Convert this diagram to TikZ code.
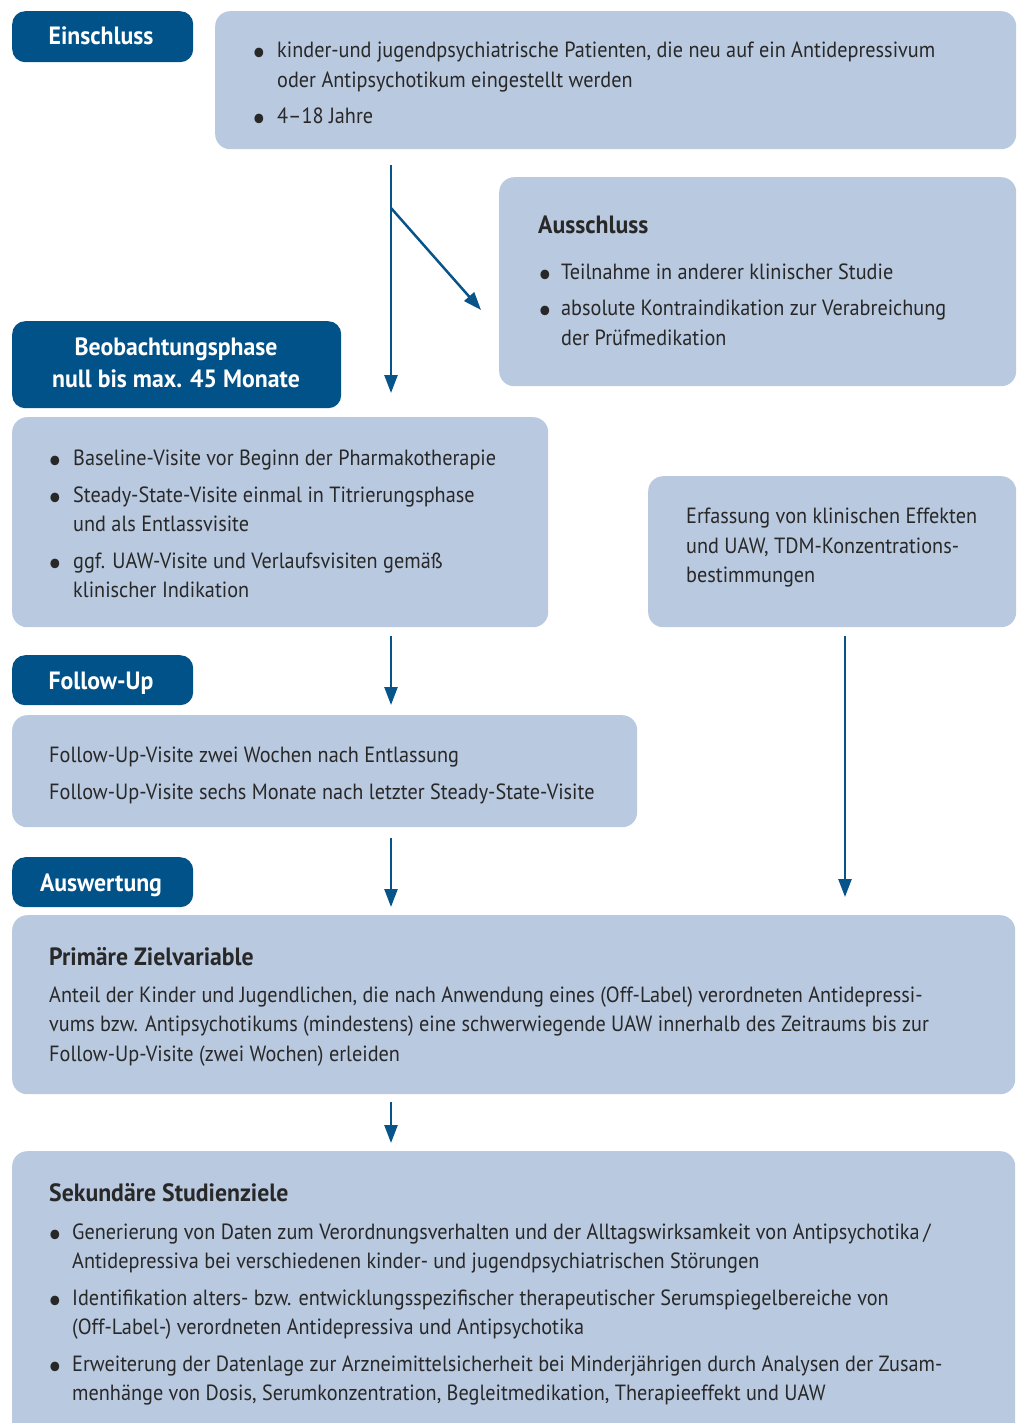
\documentclass[tikz,border=0pt]{standalone}
\usepackage{fontspec}
\setmainfont[FakeStretch=0.92,BoldFeatures={FakeStretch=0.95}]{PT Sans}
\usetikzlibrary{arrows.meta}
\definecolor{dblue}{RGB}{0,82,136}
\definecolor{lblue}{RGB}{185,201,224}
\definecolor{tcol}{RGB}{40,40,40}
\definecolor{acol}{RGB}{6,84,138}
\newcommand\tline[4]{\node[txt] (#1) at (#2,#3) {#4};}
\newcommand\bul[3]{\node[txt,anchor=base,font=\fontsize{34}{34}\selectfont,yshift=-6pt] (#1) at (#2,#3) {•};}
\begin{document}
\begin{tikzpicture}[x=1pt,y=-1pt,
  lab/.style={fill=dblue, rounded corners=13pt, inner sep=0pt, anchor=north west},
  box/.style={fill=lblue, rounded corners=15pt, inner sep=0pt, anchor=north west},
  txt/.style={text=tcol, font=\fontsize{22}{30}\selectfont, inner sep=0pt, anchor=base west},
  wtxt/.style={text=white, font=\fontsize{25}{31}\selectfont\bfseries, inner sep=0pt, anchor=base},
  hd/.style={text=tcol, font=\fontsize{25}{31}\selectfont\bfseries, inner sep=0pt, anchor=base west},
  arr/.style={draw=acol, line width=2.5pt, -{Triangle[length=18pt,width=13pt]}}]
\useasboundingbox (0,0) rectangle (1021,1423);
\clip (0,0) rectangle (1021,1423);
% boxes
\node[lab, minimum width=181pt, minimum height=51pt] (einL) at (12,11) {};
\node[box, minimum width=801pt, minimum height=138pt] (einB) at (215,11) {};
\node[box, minimum width=517pt, minimum height=209pt] (aus) at (499,177) {};
\node[lab, minimum width=329pt, minimum height=87pt] (beoL) at (12,321) {};
\node[box, minimum width=536pt, minimum height=210pt] (beoB) at (12,417) {};
\node[box, minimum width=368pt, minimum height=151pt] (erf) at (648,476) {};
\node[lab, minimum width=181pt, minimum height=50pt] (fuL) at (12,655) {};
\node[box, minimum width=625pt, minimum height=112pt] (fuB) at (12,715) {};
\node[lab, minimum width=181pt, minimum height=50pt] (ausL) at (12,857) {};
\node[box, minimum width=1003pt, minimum height=179pt] (prim) at (12,915) {};
\node[box, minimum width=1003pt, minimum height=300pt] (sek) at (12,1151) {};
% labels
\node[wtxt] (einT) at (101,45) {Einschluss};
\node[wtxt] (beoT1) at (176,355) {Beobachtungsphase};
\node[wtxt] (beoT2) at (176,387) {null bis max. 45 Monate};
\node[wtxt] (fuT) at (101,689) {Follow-Up};
\node[wtxt] (ausT) at (101,891) {Auswertung};
% Einschluss
\bul{b1}{259}{58}\tline{e1}{277}{58}{kinder-und jugendpsychiatrische Patienten, die neu auf ein Antidepressivum}
\tline{e2}{277}{88}{oder Antipsychotikum eingestellt werden}
\bul{b2}{259}{124}\tline{e3}{277}{124}{4–18 Jahre}
% Ausschluss
\node[hd] (ah) at (538,234) {Ausschluss};
\bul{b3}{545}{279}\tline{a1}{561}{279}{Teilnahme in anderer klinischer Studie}
\bul{b4}{545}{315}\tline{a2}{561}{315}{absolute Kontraindikation zur Verabreichung}
\tline{a3}{561}{345}{der Prüfmedikation}
% Beobachtung
\bul{b5}{55}{465}\tline{o1}{73}{465}{Baseline-Visite vor Beginn der Pharmakotherapie}
\bul{b6}{55}{502}\tline{o2}{73}{502}{Steady-State-Visite einmal in Titrierungsphase}
\tline{o3}{73}{531}{und als Entlassvisite}
\bul{b7}{55}{568}\tline{o4}{73}{568}{ggf. UAW-Visite und Verlaufsvisiten gemäß}
\tline{o5}{73}{597}{klinischer Indikation}
% Erfassung
\tline{r1}{686}{523}{Erfassung von klinischen Effekten}
\tline{r2}{686}{553}{und UAW, TDM-Konzentrations-}
\tline{r3}{686}{582}{bestimmungen}
% Follow-up
\tline{f1}{49}{762}{Follow-Up-Visite zwei Wochen nach Entlassung}
\tline{f2}{49}{799}{Follow-Up-Visite sechs Monate nach letzter Steady-State-Visite}
% Primaere
\node[hd] (ph) at (49,965) {Primäre Zielvariable};
\tline{p1}{49}{1002}{Anteil der Kinder und Jugendlichen, die nach Anwendung eines (Off-Label) verordneten Antidepressi-}
\tline{p2}{49}{1031}{vums bzw. Antipsychotikums (mindestens) eine schwerwiegende UAW innerhalb des Zeitraums bis zur}
\tline{p3}{49}{1061}{Follow-Up-Visite (zwei Wochen) erleiden}
% Sekundaere
\node[hd] (sh) at (49,1201) {Sekundäre Studienziele};
\bul{b8}{55}{1239}\tline{s1}{72}{1239}{Generierung von Daten zum Verordnungsverhalten und der Alltagswirksamkeit von Antipsychotika\,/}
\tline{s2}{72}{1268}{Antidepressiva bei verschiedenen kinder- und jugendpsychiatrischen Störungen}
\bul{b9}{55}{1305}\tline{s3}{72}{1305}{Identifikation alters- bzw. entwicklungsspezifischer therapeutischer Serumspiegelbereiche von}
\tline{s4}{72}{1334}{(Off-Label-) verordneten Antidepressiva und Antipsychotika}
\bul{b10}{55}{1371}\tline{s5}{72}{1371}{Erweiterung der Datenlage zur Arzneimittelsicherheit bei Minderjährigen durch Analysen der Zusam-}
\tline{s6}{72}{1400}{menhänge von Dosis, Serumkonzentration, Begleitmedikation, Therapieeffekt und UAW}
% connectors
\coordinate (c1s) at (391,165);
\coordinate (c1e) at (391,393);
\coordinate (c2s) at (391,208);
\coordinate (c2e) at (481,310);
\coordinate (c3s) at (391,636);
\coordinate (c3e) at (391,705);
\coordinate (c4s) at (391,838);
\coordinate (c4e) at (391,907);
\coordinate (c5s) at (845,636);
\coordinate (c5e) at (845,897);
\coordinate (c6s) at (391,1102);
\coordinate (c6e) at (391,1143);
\draw[arr] (c1s) -- (c1e);
\draw[arr] (c2s) -- (c2e);
\draw[arr] (c3s) -- (c3e);
\draw[arr] (c4s) -- (c4e);
\draw[arr] (c5s) -- (c5e);
\draw[arr] (c6s) -- (c6e);
\end{tikzpicture}
\end{document}
